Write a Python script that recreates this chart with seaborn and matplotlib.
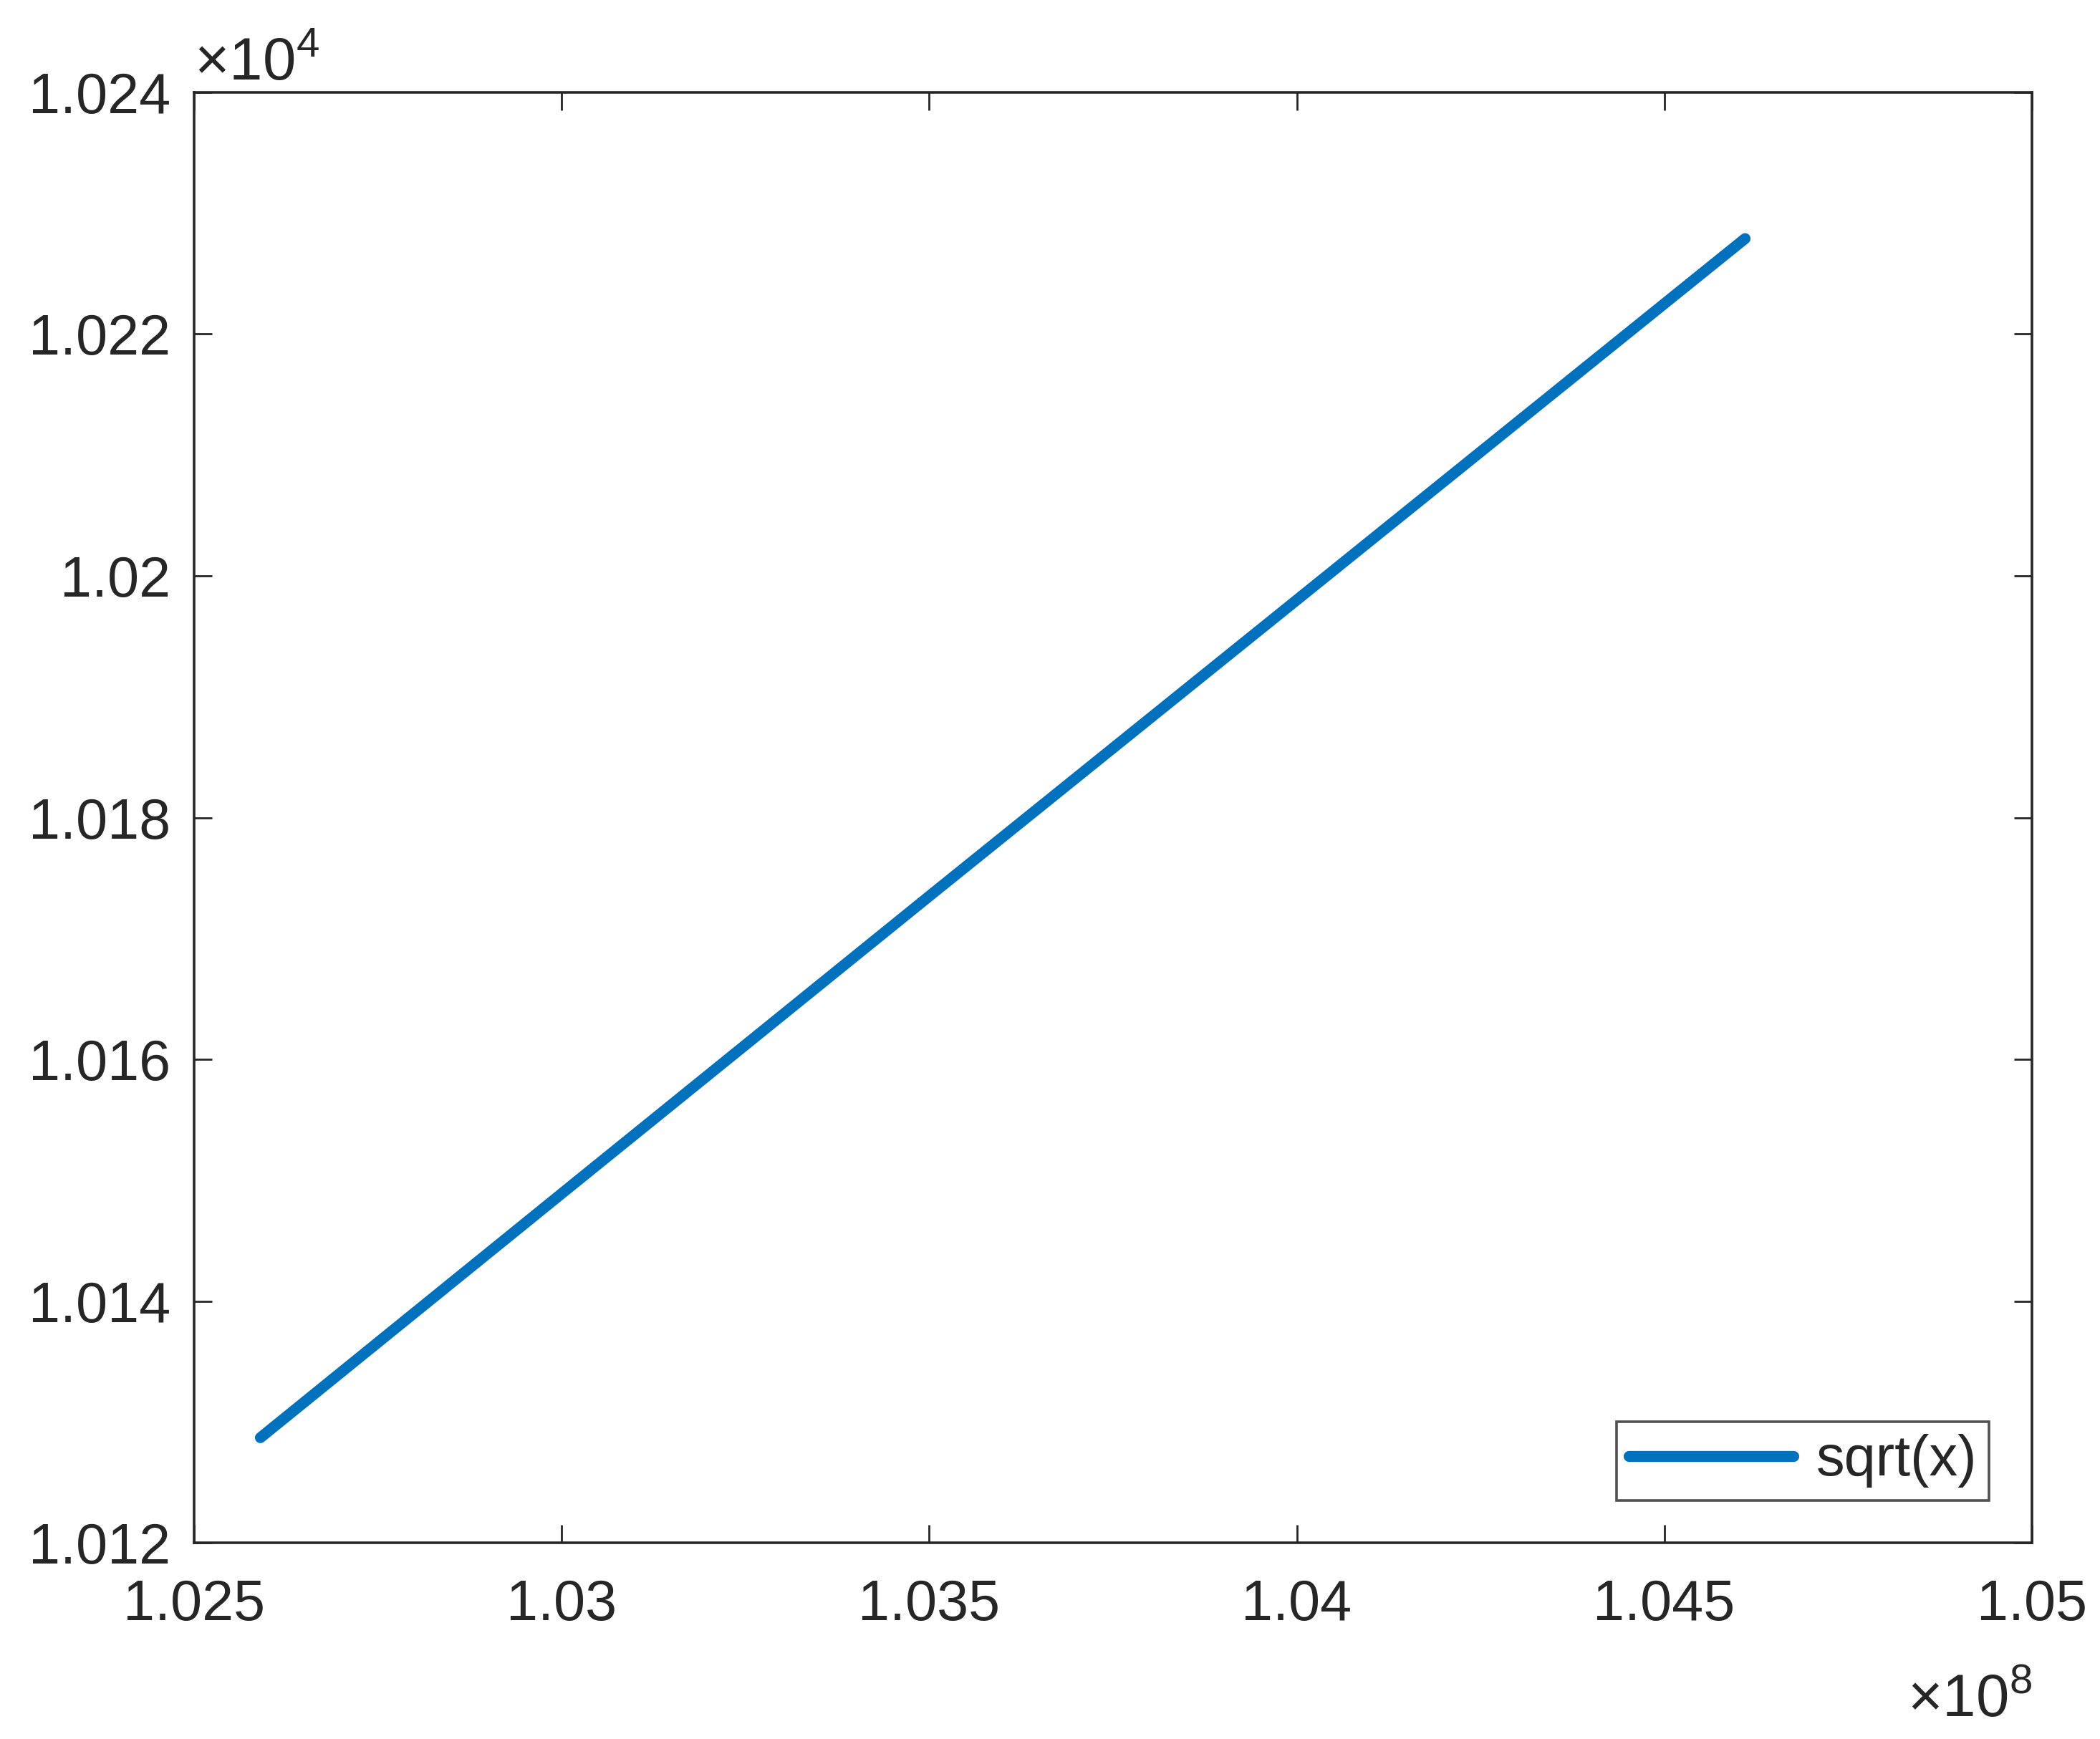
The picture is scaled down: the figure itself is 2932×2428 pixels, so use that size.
import matplotlib
matplotlib.use("Agg")
import matplotlib.pyplot as plt
import seaborn as sns
import pandas as pd
from matplotlib.ticker import FixedLocator, FuncFormatter

# values (x in raw units, y = sqrt(x))
x_vals = [1.0259e8, 1.0300e8, 1.0350e8, 1.0400e8, 1.0461e8]
y_vals = [10128.7, 10148.9, 10173.5, 10198.0, 10227.9]
series_name = "sqrt(x)"

x_ticks = [1.025e8, 1.03e8, 1.035e8, 1.04e8, 1.045e8, 1.05e8]
y_ticks = [10120, 10140, 10160, 10180, 10200, 10220, 10240]

sns.set_theme(style="white")
plt.rcParams["font.family"] = ["Liberation Sans", "DejaVu Sans"]
plt.rcParams["mathtext.fontset"] = "custom"
plt.rcParams["mathtext.rm"] = "Liberation Sans"

df = pd.DataFrame({"x": x_vals, "y": y_vals, "name": series_name})

fig = plt.figure(figsize=(14.66, 12.14), dpi=200)
ax = fig.add_axes([0.0925, 0.1128, 0.875, 0.8341])

sns.lineplot(data=df, x="x", y="y", hue="name", palette=["#0072BD"],
             linewidth=5.5, ax=ax, legend=True)

ax.set_xlim(1.025e8, 1.05e8)
ax.set_ylim(10120, 10240)
ax.xaxis.set_major_locator(FixedLocator(x_ticks))
ax.yaxis.set_major_locator(FixedLocator(y_ticks))
ax.xaxis.set_major_formatter(FuncFormatter(lambda v, p: "%g" % round(v / 1e8, 4)))
ax.yaxis.set_major_formatter(FuncFormatter(lambda v, p: "%g" % round(v / 1e4, 4)))
ax.set_xlabel("")
ax.set_ylabel("")

for s in ax.spines.values():
    s.set_visible(True)
    s.set_color("#262626")
    s.set_linewidth(1.3)

ax.tick_params(axis="both", which="major", direction="in", length=9,
               width=1.0, color="#262626", labelsize=28.5, labelcolor="#262626",
               top=True, right=True, bottom=True, left=True)
ax.tick_params(axis="x", pad=18)
ax.tick_params(axis="y", pad=12)

# multiplier labels, placed like MATLAB's exponent labels
ax.text(0.0, 1.0, r"$\times10^{4}$", transform=ax.transAxes,
        ha="left", va="bottom", fontsize=30, color="#262626")
ax.text(1.0, -0.09, r"$\times10^{8}$", transform=ax.transAxes,
        ha="right", va="top", fontsize=30, color="#262626")

leg = ax.legend(loc="lower right", fontsize=28.5, frameon=True, fancybox=False,
                edgecolor="#262626", handlelength=2.9, borderpad=0.22,
                handletextpad=0.4, borderaxespad=0.75)
leg.get_frame().set_linewidth(1.3)
leg.set_title(None)

fig.savefig("out.png", dpi=200, facecolor="white")
